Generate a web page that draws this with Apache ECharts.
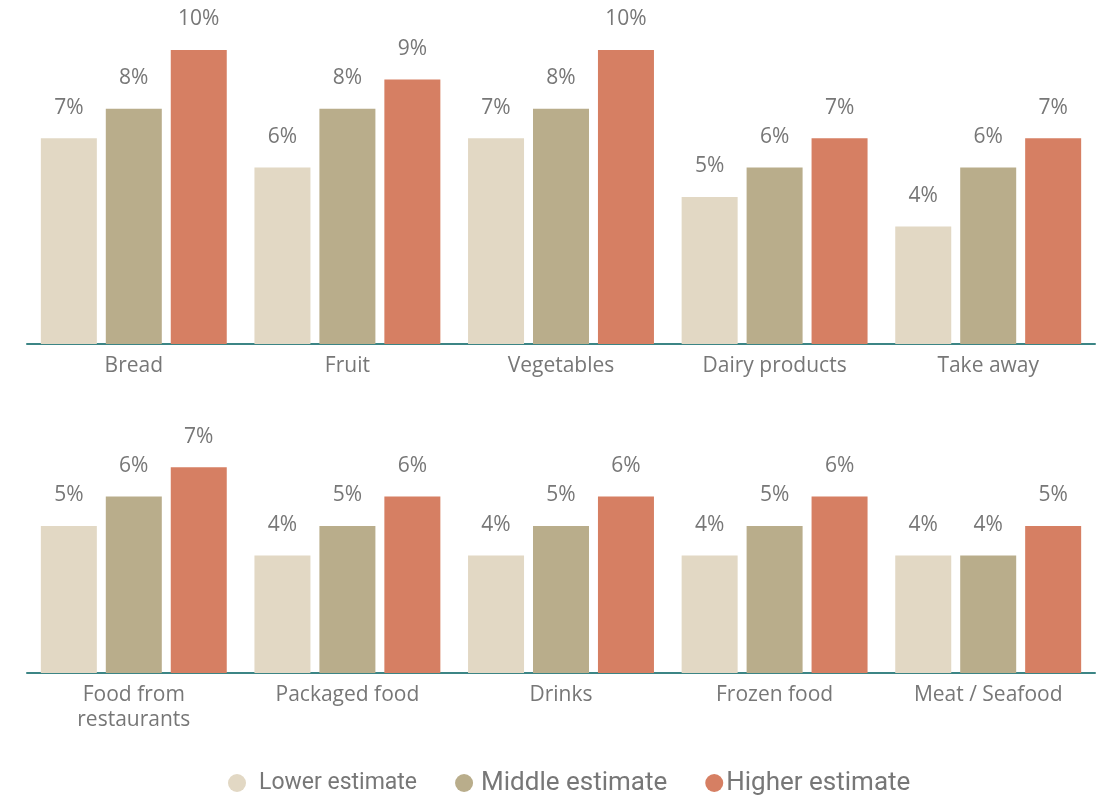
<!DOCTYPE html>
<html>
<head>
<meta charset="utf-8">
<script src="https://cdn.jsdelivr.net/npm/echarts@6/dist/echarts.min.js"></script>
<style>
  html, body { margin: 0; padding: 0; background: #fff; }
  #chart { width: 1100px; height: 800px; }
</style>
</head>
<body>
<div id="chart"></div>
<script>
// Categories for the two panels
const topCategories = ['Bread', 'Fruit', 'Vegetables', 'Dairy products', 'Take away'];
const bottomCategories = ['Food from\nrestaurants', 'Packaged food', 'Drinks', 'Frozen food', 'Meat / Seafood'];

// Series names
const seriesNames = ['Lower estimate', 'Middle estimate', 'Higher estimate'];

// Estimated price increases (%) – top panel
const topLower  = [7, 6, 7, 5, 4];
const topMiddle = [8, 8, 8, 6, 6];
const topHigher = [10, 9, 10, 7, 7];

// Estimated price increases (%) – bottom panel
const bottomLower  = [5, 4, 4, 4, 4];
const bottomMiddle = [6, 5, 5, 5, 4];
const bottomHigher = [7, 6, 6, 6, 5];

const colors = ['#E2D8C4', '#B9AD8B', '#D67F63'];
const textColor = '#777777';
const fontFamily = '"Open Sans", "Noto Sans", sans-serif';
const legendFont = 'Roboto, sans-serif';

const chart = echarts.init(document.getElementById('chart'), null, { renderer: 'canvas' });

function makeSeries(name, data, idx, axisIdx) {
  return {
    name: name,
    type: 'bar',
    xAxisIndex: axisIdx,
    yAxisIndex: axisIdx,
    data: data,
    barWidth: 56,
    barGap: '16%',
    itemStyle: { color: colors[idx] },
    label: {
      show: true,
      position: 'top',
      distance: 20,
      formatter: '{c}%',
      color: textColor,
      fontSize: 21,
      fontFamily: fontFamily
    },
    emphasis: { disabled: true },
    animation: false
  };
}

function makeXAxis(cats, gridIndex) {
  return {
    type: 'category',
    gridIndex: gridIndex,
    data: cats,
    axisLine: { show: true, lineStyle: { color: '#3C8585', width: 2 } },
    axisTick: { show: false },
    axisLabel: {
      color: textColor,
      fontSize: 21,
      fontFamily: fontFamily,
      margin: 10,
      lineHeight: 25,
      interval: 0
    }
  };
}

function makeYAxis(gridIndex) {
  return {
    type: 'value',
    gridIndex: gridIndex,
    min: 0,
    max: 10,
    show: false,
    splitLine: { show: false }
  };
}

const option = {
  backgroundColor: '#ffffff',
  animation: false,
  color: colors,
  legend: {
    top: 765,
    left: 223,
    icon: 'circle',
    itemWidth: 18,
    itemHeight: 18,
    itemGap: 38,
    textStyle: { color: textColor, fontSize: 26, fontFamily: legendFont },
    data: [
      { name: seriesNames[0], textStyle: { fontSize: 23, padding: [0, 0, 0, 8] } },
      { name: seriesNames[1], textStyle: { padding: [0, 0, 0, 3] } },
      { name: seriesNames[2], textStyle: { padding: [0, 0, 0, -2] } }
    ]
  },
  grid: [
    { left: 27, right: 5, top: 50, height: 294 },
    { left: 27, right: 5, top: 379, height: 294 }
  ],
  xAxis: [makeXAxis(topCategories, 0), makeXAxis(bottomCategories, 1)],
  yAxis: [makeYAxis(0), makeYAxis(1)],
  series: [
    makeSeries(seriesNames[0], topLower, 0, 0),
    makeSeries(seriesNames[1], topMiddle, 1, 0),
    makeSeries(seriesNames[2], topHigher, 2, 0),
    makeSeries(seriesNames[0], bottomLower, 0, 1),
    makeSeries(seriesNames[1], bottomMiddle, 1, 1),
    makeSeries(seriesNames[2], bottomHigher, 2, 1)
  ]
};

chart.setOption(option);
</script>
</body>
</html>
